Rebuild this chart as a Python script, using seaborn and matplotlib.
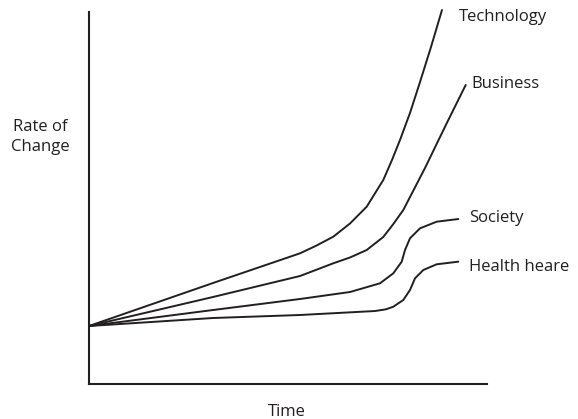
import numpy as np
import pandas as pd
import matplotlib
matplotlib.use("Agg")
import matplotlib.pyplot as plt
import seaborn as sns

series = ["Technology", "Business", "Society", "Health heare"]

tech_x = [0, 31.16, 53.02, 57.04, 61.38, 65.58, 69.77, 73.94, 76.13, 78.14, 80.65, 83.17, 85.93, 88.69]
tech_y = [15.59, 27.15, 35.13, 37.15, 39.60, 43.15, 47.66, 54.84, 60.22, 65.59, 72.85, 81.18, 90.59, 100.54]

bus_x = [0, 31.16, 53.02, 61.38, 65.58, 69.77, 73.94, 76.38, 78.97, 84.42, 89.87, 94.65]
bus_y = [15.59, 23.39, 29.03, 32.45, 34.01, 36.02, 39.52, 42.88, 46.77, 58.06, 70.08, 80.38]

soc_x = [0, 31.16, 53.02, 65.58, 73.12, 76.46, 78.57, 79.40, 80.65, 83.17, 87.36, 92.79]
soc_y = [15.59, 19.89, 22.85, 24.73, 27.07, 29.76, 32.88, 36.02, 39.17, 41.85, 43.63, 44.35]

hea_x = [0, 31.16, 53.02, 71.86, 74.62, 76.46, 78.97, 80.65, 81.91, 84.00, 87.36, 92.79]
hea_y = [15.59, 17.74, 18.55, 19.62, 20.08, 20.78, 22.58, 25.27, 28.41, 30.65, 32.18, 32.88]

xs = [tech_x, bus_x, soc_x, hea_x]
ys = [tech_y, bus_y, soc_y, hea_y]

rows = []
for name, xv, yv in zip(series, xs, ys):
    for a, b in zip(xv, yv):
        rows.append({"series": name, "time": a, "rate": b})
df = pd.DataFrame(rows)

sns.set_style("white")
plt.rcParams["font.family"] = ["Open Sans", "DejaVu Sans"]

ink = "#231f20"
fig = plt.figure(figsize=(5.78, 4.19), dpi=100)
ax = fig.add_axes([89 / 578, 35 / 419, (487 - 89) / 578, (384 - 12) / 419])

sns.lineplot(data=df, x="time", y="rate", hue="series",
             palette=[ink] * 4, linewidth=1.4, legend=False, ax=ax,
             sort=False, estimator=None)
for line in ax.lines:
    line.set_clip_on(False)
    line.set_solid_joinstyle("round")
    line.set_solid_capstyle("round")

ax.set_xlim(0, 100)
ax.set_ylim(0, 100)
ax.set_xticks([])
ax.set_yticks([])
ax.set_xlabel("")
ax.set_ylabel("")
for s in ["top", "right"]:
    ax.spines[s].set_visible(False)
for s in ["left", "bottom"]:
    ax.spines[s].set_color(ink)
    ax.spines[s].set_linewidth(1.5)

offsets = [(17, -11), (6, -3), (11, -3), (11, -9)]
for name, xv, yv, off in zip(series, xs, ys, offsets):
    ax.annotate(name, xy=(xv[-1], yv[-1]), xytext=off, textcoords="offset pixels",
                ha="left", va="baseline", fontsize=12, color=ink,
                annotation_clip=False)

fig.text(40 / 578, 1 - 137 / 419, "Rate of\nChange", ha="center", va="center",
         fontsize=12, color=ink, linespacing=1.3)
fig.text(287 / 578, 1 - 416 / 419, "Time", ha="center", va="baseline",
         fontsize=12, color=ink)

fig.savefig("out.png", dpi=100)
